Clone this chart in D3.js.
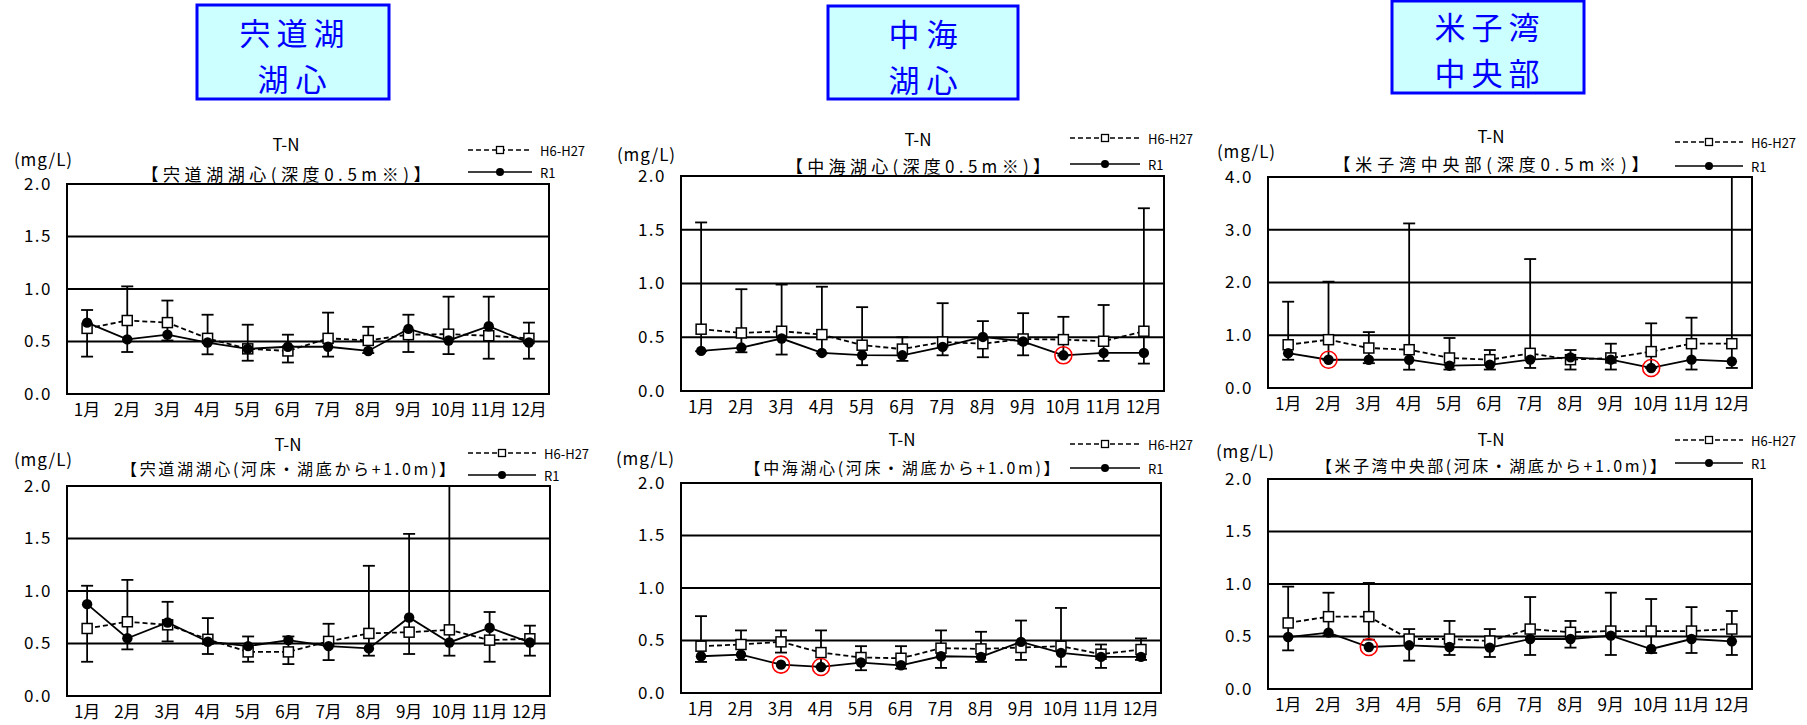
<!DOCTYPE html>
<html>
<head>
<meta charset="utf-8">
<script src="https://cdn.jsdelivr.net/npm/d3@7"></script>
<style>
  body { margin: 0; background: #fff; }
  svg { display: block; }
  text { font-family: "Noto Sans CJK JP", "Noto Sans", sans-serif; fill: #000; }
</style>
</head>
<body>
<svg id="chart" width="1807" height="725"></svg>
<script>
// ---- categories, ticks, labels ----
const months = ["1月", "2月", "3月", "4月", "5月", "6月", "7月", "8月", "9月", "10月", "11月", "12月"];
const yTicksLow = [0, 0.5, 1.0, 1.5, 2.0];
const yTicksHigh = [0, 1, 2, 3, 4];
const seriesNames = ["H6-H27", "R1"];
const stationNames = [["宍道湖", "湖心"], ["中海", "湖心"], ["米子湾", "中央部"]];
const panelTitles = [
  "【宍道湖湖心(深度0.5m※)】", "【中海湖心(深度0.5m※)】", "【米子湾中央部(深度0.5m※)】",
  "【宍道湖湖心(河床・湖底から+1.0m)】", "【中海湖心(河床・湖底から+1.0m)】", "【米子湾中央部(河床・湖底から+1.0m)】"
];

// ---- 宍道湖湖心 深度0.5m (mg/L) ----
const shinjiSurfMean = [0.625, 0.70, 0.68, 0.53, 0.43, 0.41, 0.53, 0.51, 0.565, 0.57, 0.555, 0.53];
const shinjiSurfMax  = [0.80, 1.025, 0.89, 0.755, 0.66, 0.565, 0.775, 0.64, 0.755, 0.927, 0.927, 0.68];
const shinjiSurfMin  = [0.356, 0.40, 0.51, 0.378, 0.317, 0.30, 0.356, 0.39, 0.40, 0.38, 0.336, 0.336];
const shinjiSurfR1   = [0.68, 0.52, 0.565, 0.49, 0.43, 0.45, 0.45, 0.41, 0.62, 0.51, 0.645, 0.49];

// ---- 中海湖心 深度0.5m ----
const nakaSurfMean = [0.575, 0.54, 0.556, 0.525, 0.426, 0.39, 0.456, 0.44, 0.484, 0.478, 0.463, 0.556];
const nakaSurfMax  = [1.568, 0.947, 0.99, 0.97, 0.78, 0.50, 0.817, 0.65, 0.724, 0.69, 0.80, 1.70];
const nakaSurfMin  = [0.37, 0.36, 0.339, 0.35, 0.24, 0.28, 0.332, 0.314, 0.332, 0.33, 0.28, 0.255];
const nakaSurfR1   = [0.373, 0.404, 0.488, 0.354, 0.333, 0.332, 0.41, 0.503, 0.46, 0.332, 0.354, 0.354];

// ---- 米子湾中央部 深度0.5m ----
const yonagoSurfMean = [0.82, 0.916, 0.758, 0.726, 0.569, 0.537, 0.657, 0.537, 0.57, 0.69, 0.84, 0.84];
const yonagoSurfMax  = [1.636, 2.016, 1.06, 3.12, 0.948, 0.72, 2.445, 0.72, 0.84, 1.226, 1.333, 4.0];
const yonagoSurfMin  = [0.536, 0.53, 0.47, 0.347, 0.35, 0.35, 0.38, 0.35, 0.35, 0.38, 0.35, 0.38];
const yonagoSurfR1   = [0.66, 0.536, 0.536, 0.536, 0.423, 0.44, 0.537, 0.58, 0.537, 0.38, 0.537, 0.505];

// ---- 宍道湖湖心 河床・湖底から+1.0m ----
const shinjiBotMean = [0.643, 0.707, 0.678, 0.54, 0.42, 0.42, 0.52, 0.596, 0.608, 0.63, 0.532, 0.545];
const shinjiBotMax  = [1.05, 1.106, 0.897, 0.742, 0.567, 0.567, 0.688, 1.24, 1.544, 2.0, 0.80, 0.67];
const shinjiBotMin  = [0.326, 0.444, 0.52, 0.40, 0.326, 0.304, 0.342, 0.384, 0.40, 0.384, 0.326, 0.384];
const shinjiBotR1   = [0.875, 0.55, 0.70, 0.517, 0.475, 0.532, 0.475, 0.453, 0.748, 0.51, 0.65, 0.51];

// ---- 中海湖心 河床・湖底から+1.0m ----
const nakaBotMean = [0.446, 0.462, 0.487, 0.385, 0.338, 0.331, 0.427, 0.42, 0.433, 0.446, 0.37, 0.414];
const nakaBotMax  = [0.732, 0.596, 0.596, 0.596, 0.446, 0.446, 0.596, 0.583, 0.69, 0.81, 0.462, 0.52];
const nakaBotMin  = [0.296, 0.315, 0.385, 0.25, 0.217, 0.232, 0.239, 0.296, 0.315, 0.25, 0.239, 0.315];
const nakaBotR1   = [0.35, 0.366, 0.27, 0.248, 0.29, 0.264, 0.35, 0.344, 0.487, 0.382, 0.344, 0.344];

// ---- 米子湾中央部 河床・湖底から+1.0m ----
const yonagoBotMean = [0.629, 0.689, 0.689, 0.476, 0.476, 0.457, 0.571, 0.54, 0.552, 0.552, 0.552, 0.571];
const yonagoBotMax  = [0.975, 0.917, 1.01, 0.571, 0.648, 0.571, 0.876, 0.648, 0.917, 0.857, 0.78, 0.743];
const yonagoBotMin  = [0.368, 0.51, 0.47, 0.27, 0.324, 0.305, 0.324, 0.394, 0.324, 0.343, 0.343, 0.324];
const yonagoBotR1   = [0.495, 0.537, 0.40, 0.416, 0.40, 0.394, 0.476, 0.476, 0.508, 0.381, 0.476, 0.454];

// months (index) whose R1 value is ringed in red
const nakaSurfMarked = [9];
const yonagoSurfMarked = [1, 9];
const nakaBotMarked = [2, 3];
const yonagoBotMarked = [2];

// ---- panel layout ----
const panels = [
  { mean: shinjiSurfMean, max: shinjiSurfMax, min: shinjiSurfMin, r1: shinjiSurfR1, marked: [], ticks: yTicksLow, title: panelTitles[0],
    box: { l: 67, r: 549, t: 184, b: 394 }, cx: 286, tnY: 143, subY: 173, subW: 289, subFs: 17, unit: { x: 43, y: 158 },
    leg: { x1: 468, x2: 532, y1: 150, y2: 172 } },
  { mean: nakaSurfMean, max: nakaSurfMax, min: nakaSurfMin, r1: nakaSurfR1, marked: nakaSurfMarked, ticks: yTicksLow, title: panelTitles[1],
    box: { l: 681, r: 1164, t: 176, b: 391 }, cx: 918, tnY: 138, subY: 165, subW: 264, subFs: 17, unit: { x: 646, y: 153 },
    leg: { x1: 1070, x2: 1140, y1: 138, y2: 164 } },
  { mean: yonagoSurfMean, max: yonagoSurfMax, min: yonagoSurfMin, r1: yonagoSurfR1, marked: yonagoSurfMarked, ticks: yTicksHigh, title: panelTitles[2],
    box: { l: 1268, r: 1752, t: 177, b: 388 }, cx: 1491, tnY: 135, subY: 163, subW: 315, subFs: 17, unit: { x: 1246, y: 150 },
    leg: { x1: 1675, x2: 1743, y1: 142, y2: 166 } },
  { mean: shinjiBotMean, max: shinjiBotMax, min: shinjiBotMin, r1: shinjiBotR1, marked: [], ticks: yTicksLow, title: panelTitles[3],
    box: { l: 67, r: 550, t: 486, b: 696 }, cx: 288, tnY: 443, subY: 468, subW: 334, subFs: 16, unit: { x: 43, y: 458 },
    leg: { x1: 468, x2: 536, y1: 453, y2: 475 } },
  { mean: nakaBotMean, max: nakaBotMax, min: nakaBotMin, r1: nakaBotR1, marked: nakaBotMarked, ticks: yTicksLow, title: panelTitles[4],
    box: { l: 681, r: 1161, t: 483, b: 693 }, cx: 902, tnY: 438, subY: 467, subW: 315, subFs: 16, unit: { x: 645, y: 457 },
    leg: { x1: 1070, x2: 1140, y1: 444, y2: 468 } },
  { mean: yonagoBotMean, max: yonagoBotMax, min: yonagoBotMin, r1: yonagoBotR1, marked: yonagoBotMarked, ticks: yTicksLow, title: panelTitles[5],
    box: { l: 1268, r: 1752, t: 479, b: 689 }, cx: 1491, tnY: 438, subY: 465, subW: 350, subFs: 16, unit: { x: 1245, y: 450 },
    leg: { x1: 1675, x2: 1743, y1: 440, y2: 463 } }
];

const stationBoxes = [
  { x: 197, y: 5, w: 192, h: 94, cx: 292, y1: 31, y2: 77 },
  { x: 828, y: 6, w: 190, h: 93, cx: 923, y1: 32, y2: 78 },
  { x: 1392, y: 1, w: 192, h: 92, cx: 1487, y1: 25, y2: 71 }
];

const svg = d3.select("#chart");

// station name boxes
stationBoxes.forEach((b, i) => {
  const g = svg.append("g");
  g.append("rect").attr("x", b.x).attr("y", b.y).attr("width", b.w).attr("height", b.h)
    .attr("fill", "#ccffff").attr("stroke", "#0000ff").attr("stroke-width", 3);
  [b.y1, b.y2].forEach((yy, k) => {
    const label = stationNames[i][k];
    g.append("text").attr("x", b.cx).attr("y", yy)
      .attr("text-anchor", "middle").attr("dominant-baseline", "central")
      .style("font-size", "31px").style("fill", "#0000ff")
      .attr("textLength", label.length * 36 - 3).attr("lengthAdjust", "spacing")
      .text(label);
  });
});

const fmt = d3.format(".1f");

panels.forEach((p, pi) => {
  const g = svg.append("g");
  const { l, r, t, b } = p.box;
  const x = d3.scaleBand().domain(months).range([l, r]);
  const y = d3.scaleLinear().domain([0, d3.max(p.ticks)]).range([b, t]);
  const xc = (i) => x(months[i]) + x.bandwidth() / 2;

  const clipId = "clip" + pi;
  g.append("clipPath").attr("id", clipId)
    .append("rect").attr("x", l).attr("y", t - 1).attr("width", r - l).attr("height", b - t + 2);

  // horizontal gridlines
  g.selectAll(".grid").data(p.ticks.filter(v => v > 0 && v < d3.max(p.ticks))).enter()
    .append("line").attr("x1", l).attr("x2", r)
    .attr("y1", d => y(d)).attr("y2", d => y(d))
    .attr("stroke", "#000").attr("stroke-width", 1.9);

  // y axis tick labels
  const yAxis = d3.axisLeft(y).tickValues(p.ticks).tickFormat(fmt).tickSize(0).tickPadding(15);
  const ya = g.append("g").attr("transform", `translate(${l},0)`).call(yAxis);
  ya.select(".domain").remove();
  ya.selectAll("text").style("font-size", "17px").attr("letter-spacing", "1.5px")
    .attr("font-family", "\"Noto Sans CJK JP\", sans-serif");

  // x axis month labels
  const xAxis = d3.axisBottom(x).tickSize(0).tickPadding(10);
  const xa = g.append("g").attr("transform", `translate(0,${b})`).call(xAxis);
  xa.select(".domain").remove();
  xa.selectAll("text").style("font-size", "17px").attr("font-family", "\"Noto Sans CJK JP\", sans-serif");

  const plot = g.append("g").attr("clip-path", `url(#${clipId})`);

  // H6-H27 range bars
  const bars = plot.selectAll(".bar").data(months).enter().append("g");
  bars.append("line").attr("x1", (d, i) => xc(i)).attr("x2", (d, i) => xc(i))
    .attr("y1", (d, i) => y(p.max[i])).attr("y2", (d, i) => y(p.min[i]))
    .attr("stroke", "#000").attr("stroke-width", 1.8);
  ["max", "min"].forEach(k => {
    bars.append("line").attr("x1", (d, i) => xc(i) - 6).attr("x2", (d, i) => xc(i) + 6)
      .attr("y1", (d, i) => y(p[k][i])).attr("y2", (d, i) => y(p[k][i]))
      .attr("stroke", "#000").attr("stroke-width", 1.8);
  });

  // H6-H27 mean (dashed line, open squares)
  const line = d3.line().x((d, i) => xc(i)).y(d => y(d));
  plot.append("path").datum(p.mean).attr("d", line)
    .attr("fill", "none").attr("stroke", "#000").attr("stroke-width", 1.8).attr("stroke-dasharray", "5,3");
  plot.selectAll(".sq").data(p.mean).enter().append("rect")
    .attr("x", (d, i) => xc(i) - 5).attr("y", d => y(d) - 5).attr("width", 10).attr("height", 10)
    .attr("fill", "#fff").attr("stroke", "#000").attr("stroke-width", 1.5);

  // R1 (solid line, filled circles)
  plot.append("path").datum(p.r1).attr("d", line)
    .attr("fill", "none").attr("stroke", "#000").attr("stroke-width", 1.8);
  plot.selectAll(".dot").data(p.r1).enter().append("circle")
    .attr("cx", (d, i) => xc(i)).attr("cy", d => y(d)).attr("r", 5.2).attr("fill", "#000");

  // red rings
  plot.selectAll(".ring").data(p.marked).enter().append("circle")
    .attr("cx", i => xc(i)).attr("cy", i => y(p.r1[i])).attr("r", 8.5)
    .attr("fill", "none").attr("stroke", "#ff0000").attr("stroke-width", 1.6);

  // plot frame
  g.append("rect").attr("x", l).attr("y", t).attr("width", r - l).attr("height", b - t)
    .attr("fill", "none").attr("stroke", "#000").attr("stroke-width", 2);

  // titles
  g.append("text").attr("x", p.cx).attr("y", p.tnY).attr("text-anchor", "middle")
    .attr("dominant-baseline", "central").style("font-size", "17px").text("T-N");
  g.append("text").attr("x", p.cx).attr("y", p.subY).attr("text-anchor", "middle")
    .attr("dominant-baseline", "central").style("font-size", p.subFs + "px")
    .attr("textLength", p.subW).attr("lengthAdjust", "spacing").text(p.title);
  g.append("text").attr("x", p.unit.x).attr("y", p.unit.y).attr("text-anchor", "middle")
    .attr("dominant-baseline", "central").style("font-size", "17px")
    .attr("textLength", 58).attr("lengthAdjust", "spacing").text("(mg/L)");

  // legend
  const lg = p.leg, mid = (lg.x1 + lg.x2) / 2;
  g.append("line").attr("x1", lg.x1).attr("x2", lg.x2).attr("y1", lg.y1).attr("y2", lg.y1)
    .attr("stroke", "#000").attr("stroke-width", 1.6).attr("stroke-dasharray", "5,3");
  g.append("rect").attr("x", mid - 3.5).attr("y", lg.y1 - 3.5).attr("width", 7).attr("height", 7)
    .attr("fill", "#fff").attr("stroke", "#000").attr("stroke-width", 1.3);
  g.append("line").attr("x1", lg.x1).attr("x2", lg.x2).attr("y1", lg.y2).attr("y2", lg.y2)
    .attr("stroke", "#000").attr("stroke-width", 1.6);
  g.append("circle").attr("cx", mid).attr("cy", lg.y2).attr("r", 4).attr("fill", "#000");
  [lg.y1, lg.y2].forEach((yy, k) => {
    g.append("text").attr("x", lg.x2 + 8).attr("y", yy).attr("dominant-baseline", "central")
      .style("font-size", "13px").text(seriesNames[k]);
  });
});
</script>
</body>
</html>
